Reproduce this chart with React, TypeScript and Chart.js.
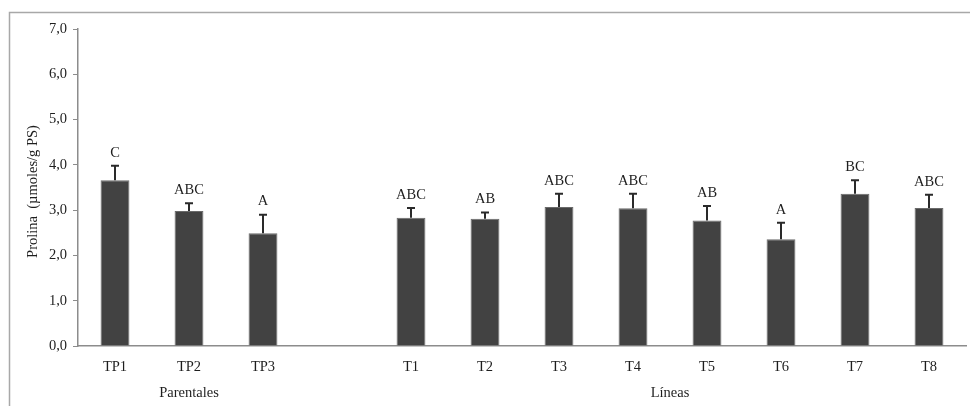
import React, { useEffect, useRef } from "react";
import { Chart, registerables } from "chart.js";

Chart.register(...registerables);

const categories = ["TP1", "TP2", "TP3", "", "T1", "T2", "T3", "T4", "T5", "T6", "T7", "T8"];
const values: (number | null)[] = [3.66, 2.98, 2.49, null, 2.83, 2.81, 3.07, 3.04, 2.77, 2.36, 3.36, 3.05];
const errors: (number | null)[] = [0.32, 0.17, 0.41, null, 0.22, 0.14, 0.29, 0.32, 0.32, 0.36, 0.3, 0.29];
const letters = ["C", "ABC", "A", "", "ABC", "AB", "ABC", "ABC", "AB", "A", "BC", "ABC"];
const groupNames = ["Parentales", "Líneas"];
const groupStart = [0, 4];
const groupEnd = [2, 11];
const yTitle = "Prolina  (µmoles/g PS)";
const yMin = 0;
const yMax = 7;
const yStep = 1;

const FONT = "'Liberation Serif', 'Times New Roman', serif";
const TEXT = "#1e1e1e";

const overlay = {
  id: "overlay",
  beforeDraw(chart: any) {
    const ctx = chart.ctx;
    ctx.save();
    ctx.strokeStyle = "#a8a8a8";
    ctx.lineWidth = 1.5;
    ctx.beginPath();
    ctx.moveTo(9.5, 420);
    ctx.lineTo(9.5, 12.5);
    ctx.lineTo(980, 12.5);
    ctx.stroke();
    ctx.restore();
  },
  afterDatasetsDraw(chart: any) {
    const ctx = chart.ctx;
    const meta = chart.getDatasetMeta(0);
    const y = chart.scales.y;
    const x = chart.scales.x;
    ctx.save();
    meta.data.forEach((bar: any, i: number) => {
      const v = values[i];
      const e = errors[i];
      if (v == null || e == null) return;
      const top = y.getPixelForValue(v);
      const et = y.getPixelForValue(v + e);
      const cx = bar.x;
      ctx.strokeStyle = "#2a2a2a";
      ctx.lineWidth = 2;
      ctx.beginPath();
      ctx.moveTo(cx, top);
      ctx.lineTo(cx, et);
      ctx.moveTo(cx - 4, et);
      ctx.lineTo(cx + 4, et);
      ctx.stroke();
      ctx.fillStyle = TEXT;
      ctx.font = `14.5px ${FONT}`;
      ctx.textAlign = "center";
      ctx.textBaseline = "middle";
      ctx.fillText(letters[i], cx, et - 13);
    });
    // group labels
    ctx.fillStyle = TEXT;
    ctx.font = `14.5px ${FONT}`;
    ctx.textAlign = "center";
    ctx.textBaseline = "middle";
    groupNames.forEach((g, k) => {
      const cx = (x.getPixelForValue(groupStart[k]) + x.getPixelForValue(groupEnd[k])) / 2;
      ctx.fillText(g, cx, 393);
    });
    // y title
    ctx.translate(33, (chart.chartArea.top + chart.chartArea.bottom) / 2 + 4);
    ctx.rotate(-Math.PI / 2);
    ctx.fillText(yTitle, 0, 0);
    ctx.restore();
  },
};

export default function App() {
  const ref = useRef<HTMLCanvasElement>(null);
  useEffect(() => {
    if (!ref.current) return;
    const chart = new Chart(ref.current, {
      type: "bar",
      data: {
        labels: categories,
        datasets: [
          {
            data: values,
            backgroundColor: "#424242",
            borderColor: "#6a6a6a",
            borderWidth: 1,
            categoryPercentage: 1,
            barPercentage: 0.39,
          },
        ],
      },
      options: {
        responsive: false,
        animation: false,
        layout: { padding: { top: 29, right: 4, left: 0, bottom: 0 } },
        plugins: { legend: { display: false }, tooltip: { enabled: false } },
        scales: {
          x: {
            grid: { display: false, drawTicks: false },
            border: { display: true, color: "#8c8c8c", width: 1.5 },
            ticks: { color: TEXT, font: { family: FONT, size: 14.5 }, padding: 12, maxRotation: 0, autoSkip: false },
            afterFit(s: any) {
              s.height = 60;
            },
          },
          y: {
            min: yMin,
            max: yMax,
            grid: { drawOnChartArea: false, drawTicks: true, tickLength: 5, color: "#8c8c8c" },
            border: { display: true, color: "#8c8c8c", width: 1.5 },
            ticks: {
              stepSize: yStep,
              color: TEXT,
              font: { family: FONT, size: 14.5 },
              padding: 6,
              callback: (v: any) => Number(v).toFixed(1).replace(".", ","),
            },
            afterFit(s: any) {
              s.width = 78;
            },
          },
        },
      },
      plugins: [overlay],
    });
    return () => chart.destroy();
  }, []);
  return (
    <div style={{ position: "absolute", left: 0, top: 0, width: 970, height: 406, background: "#fff" }}>
      <canvas ref={ref} width={970} height={406} />
    </div>
  );
}
